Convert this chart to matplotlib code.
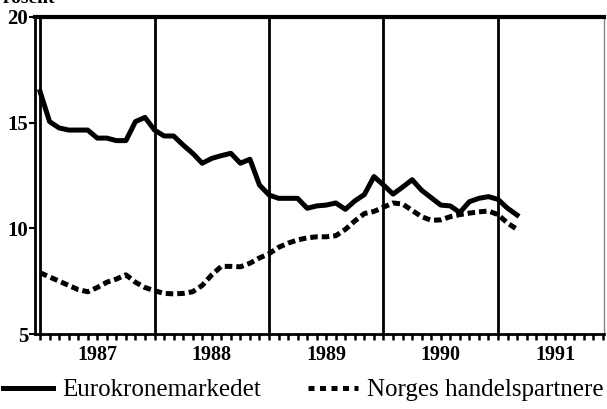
import numpy as np
import matplotlib
matplotlib.use("Agg")
import matplotlib.pyplot as plt
from matplotlib.lines import Line2D

# ---- data (monthly, Jan 1987 - Mar 1991) ----
start_year = 1987
euro = [16.47, 15.05, 14.75, 14.65, 14.65, 14.65, 14.27, 14.27, 14.15, 14.15,
        15.05, 15.25, 14.65, 14.37, 14.37, 13.94, 13.55, 13.08, 13.31, 13.44,
        13.55, 13.08, 13.27, 12.05, 11.58, 11.42, 11.42, 11.42, 10.95,
        11.06, 11.1, 11.2, 10.9, 11.3, 11.6, 12.45, 12.05, 11.62, 11.95,
        12.3, 11.8, 11.45, 11.1, 11.06, 10.75, 11.26, 11.42, 11.5, 11.37,
        10.95, 10.63]
norges = [7.9, 7.7, 7.5, 7.3, 7.1, 7.0, 7.2, 7.45, 7.6, 7.8,
          7.45, 7.2, 7.05, 6.92, 6.9, 6.92, 7.0, 7.3, 7.8, 8.2,
          8.2, 8.18, 8.35, 8.6, 8.8, 9.1, 9.3, 9.45, 9.55, 9.6,
          9.6, 9.65, 9.95, 10.35, 10.7, 10.8, 11.0, 11.2, 11.15, 10.85,
          10.55, 10.38, 10.4, 10.55, 10.65, 10.72, 10.78, 10.82, 10.65, 10.25,
          9.95]
years = [1987, 1988, 1989, 1990, 1991]
year_labels = ["1987", "1988", "1989", "1990", "1991"]
y_ticks = [5, 10, 15, 20]
series_names = ["Eurokronemarkedet", "Norges handelspartnere"]
y_title = "Prosent"

x = start_year + np.arange(len(euro)) / 12.0

plt.rcParams['font.family'] = ['Liberation Serif', 'DejaVu Serif']

fig = plt.figure(figsize=(6.07, 4.09), dpi=100)
ax = fig.add_axes([35/607, 1 - 334/409, (604 - 35)/607, (334 - 17)/409])

# vertical year separators
for yv in years:
    ax.axvline(yv, color='black', lw=2.0, zorder=1)

ax.plot(x, euro, color='black', lw=3.6, solid_joinstyle='round', zorder=3)
ax.plot(x, norges, color='black', lw=3.6, linestyle=(0, (1.5, 0.8)),
        dash_capstyle='butt', zorder=3)

ax.set_xlim(1986.956, 1991.926)
ax.set_ylim(5, 20)

# month ticks along the bottom, year labels centred in each year
ax.xaxis.remove_overlapping_locs = False
months = np.arange(0, 60) / 12.0 + start_year
ax.set_xticks(months)
ax.set_xticklabels([])
ax.tick_params(axis='x', which='major', direction='out', length=4, width=1.8, top=False)
ax.set_xticks([yv + 0.5 for yv in years], minor=True)
ax.set_xticklabels(year_labels, minor=True, fontsize=14.5, fontweight='bold')
ax.tick_params(axis='x', which='minor', length=0, pad=8)

ax.set_yticks(y_ticks)
ax.set_yticklabels([str(v) for v in y_ticks], fontsize=15, fontweight='bold')
ax.tick_params(axis='y', direction='out', length=4, width=1.5, pad=1)

for side in ['left', 'bottom']:
    ax.spines[side].set_linewidth(2.0)
ax.spines['top'].set_linewidth(3.0)
ax.spines['right'].set_linewidth(1.0)
ax.spines['right'].set_color('#888888')

fig.text(-8/607, 1 - 3/409, y_title, fontsize=14, fontweight='bold',
         ha='left', va='baseline')

handles = [Line2D([], [], color='black', lw=3.6),
           Line2D([], [], color='black', lw=3.6, linestyle=(0, (1.2, 1.1)),
                  dash_capstyle='butt')]
fig.legend(handles, series_names, loc='center left',
           bbox_to_anchor=(3/607, 1 - 390/409), ncol=2, frameon=False,
           fontsize=18, handlelength=2.0, handletextpad=0.36,
           columnspacing=1.9, borderaxespad=0, borderpad=0)

fig.savefig("out.png", dpi=100)
